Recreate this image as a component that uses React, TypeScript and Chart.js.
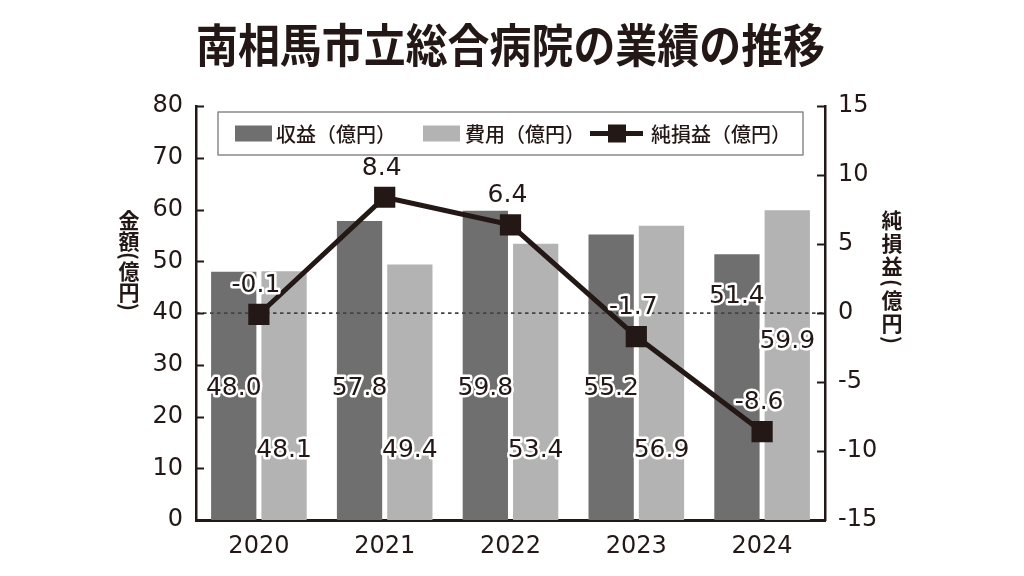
import React, { useEffect, useRef } from 'react';
import { Chart, registerables } from 'chart.js';

Chart.register(...registerables);

// ---- data ----
const TITLE = '南相馬市立総合病院の業績の推移';
const YEARS = ['2020', '2021', '2022', '2023', '2024'];
const REVENUE = [48.0, 57.8, 59.8, 55.2, 51.4];
const COST = [48.1, 49.4, 53.4, 56.9, 59.9];
const NET = [-0.1, 8.4, 6.4, -1.7, -8.6];
const SERIES_NAMES = ['収益（億円）', '費用（億円）', '純損益（億円）'];
const LEFT_TITLE = '金額(億円)';
const RIGHT_TITLE = '純損益(億円)';

// ---- styles ----
const INK = '#231815';
const DARK = '#6f6f6f';
const LIGHT = '#b3b3b3';
const NUM_FONT = '"DejaVu Sans", "Liberation Sans", sans-serif';
const JP_FONT = '"Noto Sans CJK JP", "Noto Sans", sans-serif';

// where (in left-axis units) the bar value labels sit
const REVENUE_LABEL_AT = [25.4, 25.4, 25.4, 25.4, 43.2];
const COST_LABEL_AT = [13.4, 13.4, 13.4, 13.4, 34.5];

const decorPlugin = {
  id: 'decor',
  beforeDatasetDraw(chart: any, args: any) {
    if (args.index !== 2) return;
    const { ctx, chartArea } = chart;
    const y0 = chart.scales.y1.getPixelForValue(0);
    ctx.save();
    ctx.strokeStyle = '#444';
    ctx.lineWidth = 1.6;
    ctx.setLineDash([3.5, 3.5]);
    ctx.beginPath();
    ctx.moveTo(chartArea.left, y0);
    ctx.lineTo(chartArea.right, y0);
    ctx.stroke();
    ctx.restore();
  },
  afterDatasetsDraw(chart: any) {
    const { ctx, chartArea } = chart;
    ctx.save();
    // inward ticks
    ctx.strokeStyle = INK;
    ctx.lineWidth = 2;
    for (const id of ['y', 'y1']) {
      const sc = chart.scales[id];
      for (const t of sc.ticks) {
        const py = Math.round(sc.getPixelForValue(t.value)) + 0.5;
        ctx.beginPath();
        if (id === 'y') {
          ctx.moveTo(chartArea.left, py);
          ctx.lineTo(chartArea.left + 8, py);
        } else {
          ctx.moveTo(chartArea.right - 8, py);
          ctx.lineTo(chartArea.right, py);
        }
        ctx.stroke();
      }
    }

    // value labels
    const drawLabel = (text: string, x: number, y: number) => {
      ctx.font = `25px ${NUM_FONT}`;
      ctx.textAlign = 'center';
      ctx.textBaseline = 'middle';
      ctx.lineJoin = 'round';
      ctx.lineWidth = 5;
      ctx.strokeStyle = '#ffffff';
      ctx.strokeText(text, x, y);
      ctx.fillStyle = INK;
      ctx.fillText(text, x, y);
    };
    const ys = chart.scales.y;
    const m0 = chart.getDatasetMeta(0);
    const m1 = chart.getDatasetMeta(1);
    const m2 = chart.getDatasetMeta(2);
    REVENUE.forEach((v, i) => drawLabel(v.toFixed(1), m0.data[i].x, ys.getPixelForValue(REVENUE_LABEL_AT[i])));
    COST.forEach((v, i) => drawLabel(v.toFixed(1), m1.data[i].x, ys.getPixelForValue(COST_LABEL_AT[i])));
    NET.forEach((v, i) => drawLabel(v.toFixed(1), m2.data[i].x - 3, m2.data[i].y - 29));

    // legend
    const bx = 218, by = 112, bw = 585, bh = 43;
    ctx.fillStyle = '#ffffff';
    ctx.fillRect(bx, by, bw, bh);
    ctx.strokeStyle = '#8a8a8a';
    ctx.lineWidth = 1.5;
    ctx.strokeRect(bx, by, bw, bh);
    const cy = by + bh / 2;
    ctx.font = `500 20px ${JP_FONT}`;
    ctx.textAlign = 'left';
    ctx.textBaseline = 'middle';
    ctx.fillStyle = DARK;
    ctx.fillRect(235, cy - 8, 37, 16);
    ctx.fillStyle = INK;
    ctx.fillText(SERIES_NAMES[0], 276, cy + 1);
    ctx.fillStyle = LIGHT;
    ctx.fillRect(423, cy - 8, 37, 16);
    ctx.fillStyle = INK;
    ctx.fillText(SERIES_NAMES[1], 465, cy + 1);
    ctx.strokeStyle = INK;
    ctx.lineWidth = 5;
    ctx.beginPath();
    ctx.moveTo(590, cy);
    ctx.lineTo(643, cy);
    ctx.stroke();
    ctx.fillRect(608, cy - 9, 18, 18);
    ctx.fillText(SERIES_NAMES[2], 651, cy + 1);

    // vertical axis titles (upright characters, parentheses turned)
    const vertical = (text: string, x: number, yStart: number, adv: number, padv: number) => {
      ctx.font = `bold 21px ${JP_FONT}`;
      ctx.textAlign = 'center';
      ctx.textBaseline = 'middle';
      ctx.fillStyle = INK;
      let y = yStart;
      let prevParen = false;
      Array.from(text).forEach((ch, k) => {
        const isParen = ch === '(' || ch === ')';
        if (k > 0) y += (isParen || prevParen) ? padv : adv;
        if (isParen) {
          ctx.save();
          ctx.translate(x, y);
          ctx.rotate(Math.PI / 2);
          ctx.fillText(ch, 0, 0);
          ctx.restore();
        } else {
          ctx.fillText(ch, x, y);
        }
        prevParen = isParen;
      });
    };
    vertical(LEFT_TITLE, 129, 220, 21, 15);
    vertical(RIGHT_TITLE, 892, 220, 23, 17);
    ctx.restore();
  },
};

export default function App() {
  const ref = useRef<HTMLCanvasElement>(null);
  useEffect(() => {
    if (!ref.current) return;
    const chart = new Chart(ref.current, {
      type: 'bar',
      data: {
        labels: YEARS,
        datasets: [
          {
            label: SERIES_NAMES[0],
            data: REVENUE,
            backgroundColor: DARK,
            yAxisID: 'y',
            order: 2,
            categoryPercentage: 0.8,
            barPercentage: 0.9,
          },
          {
            label: SERIES_NAMES[1],
            data: COST,
            backgroundColor: LIGHT,
            yAxisID: 'y',
            order: 2,
            categoryPercentage: 0.8,
            barPercentage: 0.9,
          },
          {
            type: 'line',
            label: SERIES_NAMES[2],
            data: NET,
            yAxisID: 'y1',
            borderColor: INK,
            borderWidth: 5,
            backgroundColor: INK,
            pointStyle: 'rect',
            pointRadius: 15,
            pointBorderWidth: 0,
            pointBackgroundColor: INK,
            order: 0,
          } as any,
        ],
      },
      options: {
        responsive: false,
        animation: false,
        devicePixelRatio: 1,
        layout: { padding: { left: 136, right: 139, top: 17, bottom: 16 } },
        plugins: {
          legend: { display: false },
          tooltip: { enabled: false },
          title: {
            display: true,
            text: TITLE,
            color: INK,
            fullSize: false,
            font: { family: JP_FONT, size: 46, weight: 'bold' },
            padding: { top: 0, bottom: 34 },
          },
        },
        scales: {
          x: {
            grid: { display: false, drawTicks: false },
            border: { display: true, color: INK, width: 3 },
            ticks: { color: INK, font: { family: NUM_FONT, size: 24 }, padding: 12 },
            afterFit: (s: any) => { s.height = 40; },
          },
          y: {
            position: 'left',
            min: 0,
            max: 80,
            ticks: { stepSize: 10, color: INK, font: { family: NUM_FONT, size: 24 }, padding: 13 },
            grid: { display: false, drawTicks: false },
            border: { display: true, color: INK, width: 2.5 },
            afterFit: (s: any) => { s.width = 60; },
          },
          y1: {
            position: 'right',
            min: -15,
            max: 15,
            ticks: { stepSize: 5, color: INK, font: { family: NUM_FONT, size: 24 }, padding: 13 },
            grid: { display: false, drawTicks: false },
            border: { display: true, color: INK, width: 2.5 },
            afterFit: (s: any) => { s.width = 60; },
          },
        },
      },
      plugins: [decorPlugin],
    });
    return () => chart.destroy();
  }, []);
  return (
    <div style={{ position: 'absolute', left: 0, top: 0, width: 1024, height: 576, background: '#fff' }}>
      <canvas ref={ref} width={1024} height={576} style={{ display: 'block' }} />
    </div>
  );
}
